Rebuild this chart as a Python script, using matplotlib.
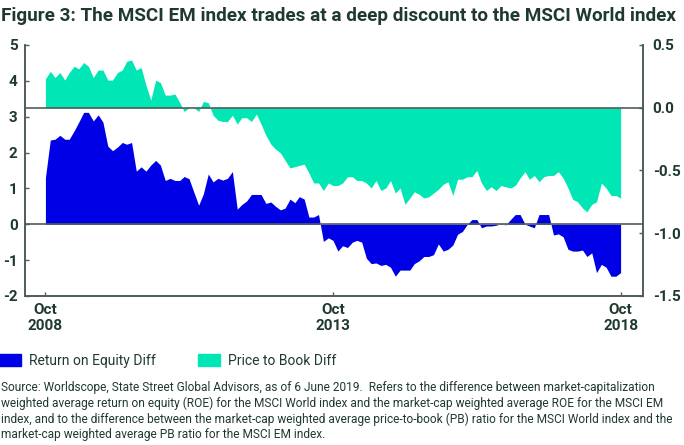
import numpy as np
import pandas as pd
import matplotlib
matplotlib.use("Agg")
import matplotlib.pyplot as plt
import matplotlib.dates as mdates
from matplotlib.patches import Patch

# monthly data Oct 2008 .. Oct 2018
months = pd.date_range("2008-10-01", periods=121, freq="MS")

roe_diff = [
    1.3, 2.35, 2.37, 2.48, 2.37, 2.37, 2.6, 2.85, 3.12, 3.12,
    2.88, 3.05, 2.85, 2.18, 2.05, 2.15, 2.28, 2.23, 2.28, 1.48,
    1.6, 1.48, 1.65, 1.78, 1.65, 1.22, 1.28, 1.22, 1.22, 1.33,
    1.27, 0.9, 0.53, 0.85, 1.4, 1.18, 1.28, 1.23, 1.28, 1.47,
    0.42, 0.55, 0.65, 0.83, 0.83, 0.83, 0.58, 0.62, 0.5, 0.4,
    0.45, 0.7, 0.6, 0.77, 0.7, 0.2, 0.2, 0.27, -0.48, -0.38,
    -0.45, -0.75, -0.6, -0.65, -0.5, -0.45, -0.5, -0.95, -1.1, -1.08,
    -1.15, -1.12, -1.2, -1.45, -1.28, -1.28, -1.28, -1.1, -1.02, -0.9,
    -0.9, -0.85, -0.55, -0.75, -0.7, -0.58, -0.28, -0.2, 0.0, 0.13,
    0.13, -0.1, -0.05, -0.05, -0.03, 0.02, -0.02, 0.13, 0.27, 0.27,
    0.0, -0.05, -0.1, 0.27, 0.27, 0.27, -0.3, -0.27, -0.35, -0.7,
    -0.75, -0.75, -0.72, -0.9, -0.8, -1.35, -1.12, -1.2, -1.45, -1.45,
    -1.35,
]

pb_diff = [
    0.23, 0.29, 0.24, 0.28, 0.22, 0.28, 0.33, 0.31, 0.36, 0.33,
    0.24, 0.3, 0.3, 0.22, 0.22, 0.28, 0.3, 0.37, 0.38, 0.3,
    0.32, 0.18, 0.06, 0.22, 0.2, 0.1, 0.1, 0.11, 0.04, -0.03,
    0.0, 0.0, -0.03, 0.05, 0.04, -0.06, -0.1, -0.11, -0.11, -0.06,
    -0.13, -0.08, -0.08, -0.11, -0.05, -0.13, -0.22, -0.29, -0.33, -0.36,
    -0.42, -0.48, -0.47, -0.46, -0.45, -0.52, -0.6, -0.6, -0.66, -0.6,
    -0.62, -0.62, -0.6, -0.55, -0.55, -0.58, -0.58, -0.6, -0.64, -0.58,
    -0.66, -0.64, -0.58, -0.68, -0.64, -0.77, -0.72, -0.67, -0.69, -0.72,
    -0.71, -0.68, -0.65, -0.61, -0.59, -0.7, -0.57, -0.57, -0.55, -0.55,
    -0.5, -0.6, -0.66, -0.63, -0.66, -0.62, -0.63, -0.64, -0.62, -0.56,
    -0.51, -0.57, -0.54, -0.59, -0.55, -0.54, -0.54, -0.51, -0.56, -0.64,
    -0.73, -0.75, -0.8, -0.83, -0.77, -0.75, -0.6, -0.64, -0.7, -0.7,
    -0.72,
]

x_ticks = ["2008-10-01", "2013-10-01", "2018-10-01"]
left_ticks = [-2, -1, 0, 1, 2, 3, 4, 5]
right_ticks = [-1.5, -1.0, -0.5, 0.0, 0.5]

title = "Figure 3: The MSCI EM index trades at a deep discount to the MSCI World index"
source = ("Source: Worldscope, State Street Global Advisors, as of 6 June 2019.  Refers to the difference between market-capitalization\n"
          "weighted average return on equity (ROE) for the MSCI World index and the market-cap weighted average ROE for the MSCI EM\n"
          "index, and to the difference between the market-cap weighted average price-to-book (PB) ratio for the MSCI World index and the\n"
          "market-cap weighted average PB ratio for the MSCI EM index.")

BLUE = "#0000e6"
TEAL = "#00e6b4"
DARK = "#1f3a2d"
SPINE = "#4f5d55"

plt.rcParams["font.family"] = "Roboto"
plt.rcParams["axes.unicode_minus"] = False

fig = plt.figure(figsize=(6.84, 4.45), dpi=100)
ax = fig.add_axes([0.036, 0.335, 0.904, 0.564])
ax2 = ax.twinx()

ax.fill_between(months, 0, roe_diff, color=BLUE, lw=0)
ax2.fill_between(months, 0, pb_diff, color=TEAL, lw=0)
ax.axhline(0, color=SPINE, lw=1.2)
ax2.axhline(0, color=SPINE, lw=1.2)

ax.set_ylim(-2, 5)
ax2.set_ylim(-1.5, 0.5)
ax.set_xlim(pd.Timestamp("2008-05-22"), pd.Timestamp("2019-02-20"))

ax.set_yticks(left_ticks)
ax2.set_yticks(right_ticks)
ax2.set_yticklabels([f"{v:.1f}" for v in right_ticks])
ax.set_xticks([pd.Timestamp(d) for d in x_ticks])
ax.xaxis.set_major_formatter(mdates.DateFormatter("%b\n%Y"))

for a in (ax, ax2):
    a.spines["top"].set_visible(False)
    for s in ("left", "right", "bottom"):
        a.spines[s].set_color(SPINE)
        a.spines[s].set_linewidth(1.2)
    a.tick_params(colors=SPINE, labelcolor=DARK, direction="in", length=3,
                  width=1, labelsize=11)
ax.tick_params(axis="y", pad=5)
ax2.tick_params(axis="y", pad=7)
ax.tick_params(axis="x", pad=5)
for lab in ax.get_xticklabels() + ax.get_yticklabels() + ax2.get_yticklabels():
    lab.set_fontweight("bold")

fig.text(0.002, 0.985, title, ha="left", va="top", fontsize=13.6,
         fontweight="bold", color=DARK)

handles = [Patch(color=BLUE, label="Return on Equity Diff"),
           Patch(color=TEAL, label="Price to Book Diff")]
fig.legend(handles=handles, loc="upper left", bbox_to_anchor=(-0.02, 0.233),
           ncol=2, frameon=False, fontsize=10, handlelength=1.6,
           handleheight=1.0, columnspacing=3.0, handletextpad=0.6,
           labelcolor=DARK)

fig.text(0.002, 0.143, source, ha="left", va="top", fontsize=8.6,
         color=DARK, linespacing=1.21)

fig.savefig("out.png", dpi=100)
